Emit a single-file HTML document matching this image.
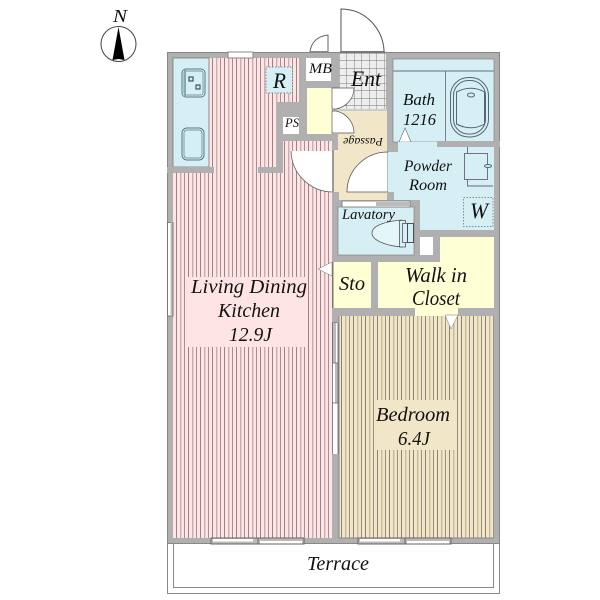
<!DOCTYPE html>
<html><head><meta charset="utf-8"><style>
html,body{margin:0;padding:0;background:#fff}
svg{display:block}
text{font-family:"Liberation Serif",serif;font-style:italic;fill:#111}
</style></head><body>
<svg width="600" height="600" viewBox="0 0 600 600" xmlns="http://www.w3.org/2000/svg">
<defs>
<pattern id="pk" width="12" height="10" patternUnits="userSpaceOnUse" x="175">
<rect width="12" height="10" fill="#ffe4e5"/>
<rect x="1" width="1" height="10" fill="#9b8285"/>
<rect x="5" width="1.4" height="10" fill="#c9aeb2"/>
<rect x="9" width="1" height="10" fill="#a68e91"/>
</pattern>
<pattern id="tn" width="12" height="10" patternUnits="userSpaceOnUse" x="340">
<rect width="12" height="10" fill="#f2e6c8"/>
<rect x="1" width="1" height="10" fill="#8a8272"/>
<rect x="5" width="1.4" height="10" fill="#c4b99c"/>
<rect x="9" width="1" height="10" fill="#9a917e"/>
</pattern>
<pattern id="gr" width="7.5" height="7.5" patternUnits="userSpaceOnUse" x="339" y="53">
<rect width="7.5" height="7.5" fill="#eeeeee"/>
<path d="M0 0H7.5M0 0V7.5" stroke="#777" stroke-width="0.9"/>
</pattern>
</defs>

<!-- main wall mass -->
<rect x="167" y="52" width="333" height="492" fill="#b0b0b0"/>
<rect x="167.500" y="52.500" width="332" height="491" fill="none" stroke="#888"/>
<rect x="340" y="52" width="45" height="6" fill="#eee"/>

<!-- LDK -->
<path d="M173 58H299V102H277V167H173Z" fill="url(#pk)"/>
<rect x="173" y="173" width="159" height="365" fill="url(#pk)"/>
<rect x="214" y="165" width="44" height="10" fill="url(#pk)"/>
<rect x="283" y="141" width="49" height="34" fill="url(#pk)"/>
<!-- kitchen -->
<rect x="173" y="58" width="36" height="109" fill="#d6eff5" stroke="#777" stroke-width="0.8"/>
<rect x="167" y="167" width="47" height="6" fill="#b0b0b0"/>
<rect x="258" y="167" width="25" height="6" fill="#b0b0b0"/>
<rect x="277" y="102" width="6" height="71" fill="#b0b0b0"/>
<rect x="277" y="102" width="29" height="15" fill="#b0b0b0"/>
<rect x="283" y="134" width="55" height="7" fill="#b0b0b0"/>
<rect x="283" y="117" width="16" height="17" fill="#fff"/>
<!-- sink & stove -->
<rect x="182" y="69" width="23" height="28" rx="4" fill="none" stroke="#5a7a80"/>
<rect x="184" y="71" width="19" height="24" rx="2" fill="none" stroke="#5a7a80" stroke-width="0.7"/>
<rect x="184" y="70" width="2" height="26" fill="#8aa"/>
<rect x="189" y="77" width="4" height="4" fill="none" stroke="#333"/>
<rect x="196" y="85" width="4" height="4" fill="none" stroke="#333"/>
<rect x="182" y="128" width="22" height="32" rx="5" fill="none" stroke="#5a7a80"/>
<rect x="184" y="130" width="18" height="28" rx="3" fill="none" stroke="#5a7a80" stroke-width="0.7"/>
<!-- R -->
<rect x="266" y="67" width="26.500" height="26" fill="#d6eff5" stroke="#667" stroke-width="0.7" stroke-dasharray="1.5 1.5"/>
<!-- top window -->
<rect x="228" y="52" width="25" height="6" fill="#fff" stroke="#888"/>
<!-- door quarter LDK -->
<path d="M291 151H332V192A42 42 0 0 1 291 151Z" fill="#fff"/>
<path d="M291 151A42 42 0 0 0 332 192" fill="none" stroke="#666" stroke-width="0.8"/>

<!-- MB -->
<rect x="306" y="58" width="25" height="23" fill="#fff"/>
<path d="M310 52C311 42 318 36 328 35V52" fill="#fff" stroke="#666"/>
<rect x="310" y="51" width="18" height="2" fill="#888"/>
<!-- closet yellow -->
<rect x="307" y="88" width="25" height="46" fill="#ffffd6"/>
<!-- Ent -->
<rect x="339" y="53" width="47" height="57" fill="url(#gr)"/>
<path d="M341 52V9C366 9 384 30 384 52" fill="#fff" stroke="#555"/>
<rect x="340" y="51" width="45" height="2" fill="#777"/>
<!-- passage -->
<rect x="333" y="111" width="54" height="89" fill="#f2e6c8"/>
<rect x="333" y="109" width="54" height="2" fill="#ccc"/>
<!-- doors white -->
<path d="M332 88H354C354 99 346 107 336 109H332Z" fill="#fff" stroke="#555" stroke-width="0.7"/>
<path d="M332 111H336C346 113 354 122 354 133H332Z" fill="#fff" stroke="#555" stroke-width="0.7"/>
<path d="M347 192C347 170 365 152 388 152V192Z" fill="#fff" stroke="#555" stroke-width="0.8"/>
<rect x="332" y="150" width="2" height="44" fill="#999"/>
<rect x="332" y="134" width="6" height="16" fill="#b0b0b0"/>
<rect x="332" y="192" width="7" height="70" fill="#b0b0b0"/>
<rect x="387" y="58" width="6" height="90" fill="#b0b0b0"/>
<!-- Bath -->
<rect x="393" y="59" width="101" height="83" fill="#d6eff5" stroke="#777" stroke-width="0.6"/>
<path d="M393 71H494" stroke="#8a9a9e" stroke-width="1.4"/>
<path d="M445.500 71V141" stroke="#667" stroke-width="0.8"/>
<rect x="450.500" y="77.500" width="38" height="59.500" rx="18" ry="18" fill="none" stroke="#567"/>
<rect x="453.500" y="80.500" width="32" height="53.500" rx="15" ry="15" fill="none" stroke="#567"/>
<path d="M456.500 92C466 87 476 87 484.500 92V124C476 129 466 129 456.500 124Z" fill="none" stroke="#567"/>
<ellipse cx="471" cy="95" rx="3.500" ry="2" fill="none" stroke="#567"/>
<rect x="437" y="141" width="63" height="6" fill="#b0b0b0"/>
<path d="M399 142L405 128L411 142Z" fill="#fff" stroke="#666" stroke-width="0.6"/>
<!-- Powder -->
<path d="M388 152H398V142H437V147H494V230H420V200H388Z" fill="#d6eff5"/>
<rect x="387" y="192" width="7" height="9" fill="#b0b0b0"/>
<path d="M467.500 147V153M467.500 179V186H493" fill="none" stroke="#667" stroke-width="0.9"/>
<rect x="464.500" y="153.500" width="23" height="26" fill="#d6eff5" stroke="#667" stroke-width="0.9"/>
<ellipse cx="488" cy="166" rx="3.500" ry="1.500" fill="#d6eff5" stroke="#567"/>
<rect x="463.500" y="197.500" width="29.500" height="29" fill="none" stroke="#667" stroke-width="0.7" stroke-dasharray="1.5 1.5"/>
<!-- Lavatory -->
<rect x="338" y="207" width="76" height="48" fill="#d6eff5" stroke="#777" stroke-width="0.6"/>
<rect x="342" y="201" width="68" height="6" fill="#fff" stroke="#777" stroke-width="0.8"/>
<rect x="376" y="202" width="34" height="4" fill="#bbb"/>
<path d="M402 220C388 221 372 225 372 233C372 241 388 246 402 247" fill="#e4f5f9" stroke="#555" stroke-width="0.8"/>
<rect x="399.500" y="220.500" width="6" height="26.500" fill="#d6eff5" stroke="#555" stroke-width="0.8"/>
<rect x="402.500" y="223.500" width="5" height="19" fill="#d6eff5" stroke="#555" stroke-width="0.8"/>
<rect x="407.500" y="223.500" width="6" height="19" fill="#d6eff5" stroke="#333" stroke-width="0.8"/>
<rect x="420" y="237" width="13" height="18" fill="#fff"/>
<!-- WIC / Sto -->
<path d="M378 262H440V237H494V308H458V315H415V308H378Z" fill="#ffffd6"/>
<rect x="333" y="262" width="38" height="46" fill="#ffffd6"/>
<rect x="332" y="262" width="1.500" height="46" fill="#777"/>
<!-- Bedroom -->
<rect x="339" y="316" width="155" height="222" fill="url(#tn)"/>
<rect x="415" y="314" width="43" height="2" fill="#ffffd6"/>
<path d="M445 315H458L451 329Z" fill="#fff" stroke="#777" stroke-width="0.5"/>
<path d="M339 316V538H494" fill="none" stroke="#888"/>
<rect x="375" y="400" width="80" height="50" fill="#f2e6c8"/>
<!-- LDK label bg -->
<rect x="188" y="277" width="120" height="70" fill="#ffe4e5"/>
<!-- arrow LDK -->
<path d="M318 269L332 262V276Z" fill="#fff" stroke="#777" stroke-width="0.5"/>
<!-- sliding inner right wall LDK -->
<rect x="332" y="322" width="6" height="132" fill="#fff"/>
<rect x="332" y="323" width="4" height="40" fill="#bbb"/>
<rect x="335" y="363" width="3" height="40" fill="#bbb"/>
<path d="M332.500 323V454M338 323V454M332 322.500H338M332 363H338M332 403H338" fill="none" stroke="#666" stroke-width="0.8"/>
<!-- left window -->
<rect x="167.500" y="222.500" width="5.500" height="93.500" fill="#fff" stroke="#777"/>
<path d="M171.500 222V316" stroke="#bbb" stroke-width="2"/>
<!-- bottom windows -->
<g stroke="#666" stroke-width="1">
<rect x="211" y="538" width="47" height="6" fill="#bbb"/>
<rect x="258" y="538" width="46" height="6" fill="#bbb"/>
<rect x="358" y="538" width="47" height="6" fill="#bbb"/>
<rect x="405" y="538" width="46" height="6" fill="#bbb"/>
</g>
<g fill="#fff">
<rect x="213" y="539" width="40" height="2.500"/>
<rect x="260" y="541" width="42" height="2.500"/>
<rect x="360" y="539" width="40" height="2.500"/>
<rect x="407" y="541" width="42" height="2.500"/>
</g>
<!-- terrace -->
<path d="M167.500 544V593.500H499.500V544" fill="none" stroke="#888"/>
<path d="M173.500 544V587.500H493.500V544" fill="none" stroke="#888"/>
<!-- compass -->
<circle cx="118.500" cy="44" r="17.500" fill="#fff" stroke="#444"/>
<path d="M118.500 27L112.500 60L118.500 59L124.500 60Z" fill="#000"/>
<!-- labels -->
<g>
<text x="113" y="22" font-size="18" textLength="14" lengthAdjust="spacingAndGlyphs">N</text>
<text x="273" y="88" font-size="22" textLength="13" lengthAdjust="spacingAndGlyphs">R</text>
<text x="309" y="73" font-size="15" textLength="23" lengthAdjust="spacingAndGlyphs">MB</text>
<text x="285" y="127" font-size="13" textLength="14" lengthAdjust="spacingAndGlyphs">PS</text>
<text x="351" y="86" font-size="22" textLength="30" lengthAdjust="spacingAndGlyphs">Ent</text>
<text x="403" y="105" font-size="17" textLength="32" lengthAdjust="spacingAndGlyphs">Bath</text>
<text x="403" y="125" font-size="17" textLength="33" lengthAdjust="spacingAndGlyphs">1216</text>
<text transform="rotate(180 363 142)" x="343" y="146" font-size="12" textLength="40" lengthAdjust="spacingAndGlyphs">Passage</text>
<text x="404" y="171" font-size="15.500" textLength="48" lengthAdjust="spacingAndGlyphs">Powder</text>
<text x="409" y="190" font-size="15.500" textLength="38" lengthAdjust="spacingAndGlyphs">Room</text>
<text x="470" y="218" font-size="22" textLength="18" lengthAdjust="spacingAndGlyphs">W</text>
<text x="342" y="219" font-size="14.500" textLength="53" lengthAdjust="spacingAndGlyphs">Lavatory</text>
<text x="339" y="290" font-size="20" textLength="26" lengthAdjust="spacingAndGlyphs">Sto</text>
<text x="405" y="282" font-size="21" textLength="62" lengthAdjust="spacingAndGlyphs">Walk in</text>
<text x="412" y="305" font-size="21" textLength="48" lengthAdjust="spacingAndGlyphs">Closet</text>
<text x="191" y="293" font-size="20" textLength="116" lengthAdjust="spacingAndGlyphs">Living Dining</text>
<text x="218" y="317" font-size="20" textLength="62" lengthAdjust="spacingAndGlyphs">Kitchen</text>
<text x="229" y="341" font-size="20" textLength="43" lengthAdjust="spacingAndGlyphs">12.9J</text>
<text x="376" y="421" font-size="20" textLength="74" lengthAdjust="spacingAndGlyphs">Bedroom</text>
<text x="398" y="445" font-size="20" textLength="32" lengthAdjust="spacingAndGlyphs">6.4J</text>
<text x="307" y="570" font-size="20" textLength="62" lengthAdjust="spacingAndGlyphs">Terrace</text>
</g>
</svg>
</body></html>
